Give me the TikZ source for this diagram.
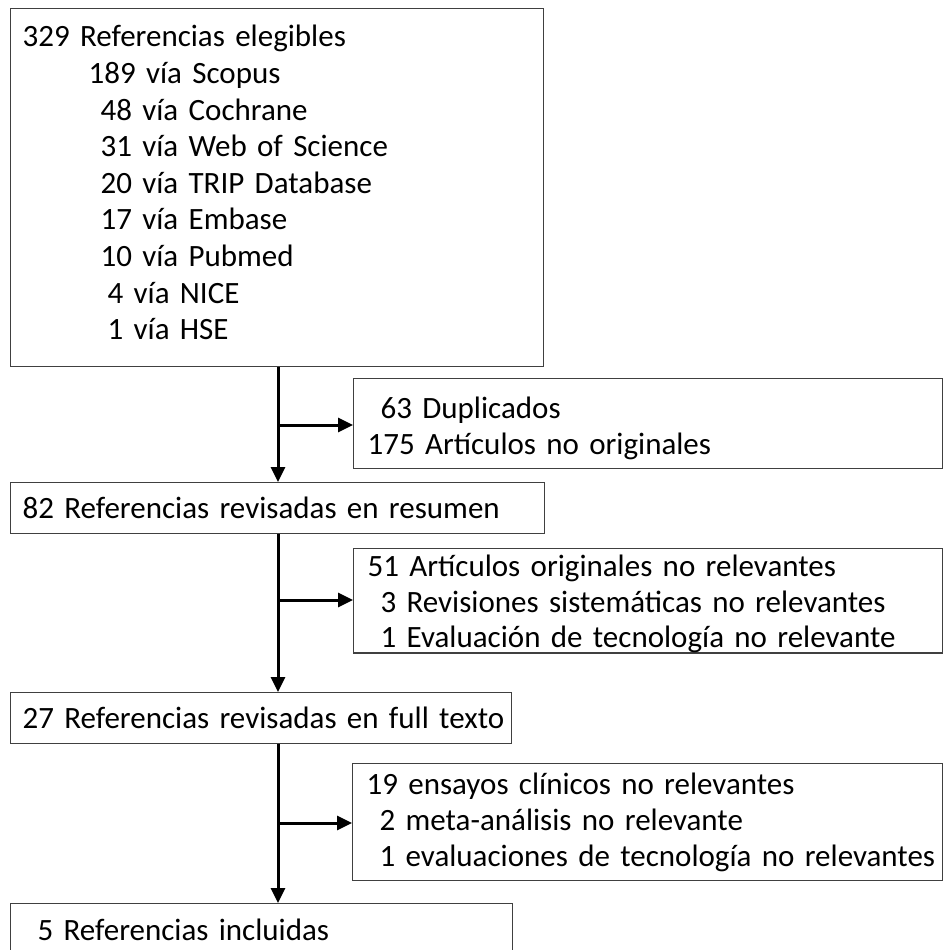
\documentclass[tikz,border=0pt]{standalone}
\usepackage{fontspec}
\setmainfont{Carlito}
\usetikzlibrary{arrows.meta}
\newcommand{\lineat}[2]{\mbox{\hspace*{#1pt}#2}}
\begin{document}
\begin{tikzpicture}[x=1pt,y=-1pt,
  box/.style={draw=black!75, line width=1.2pt, rectangle, anchor=north west,
    align=left, inner xsep=12pt, inner ysep=0pt,
    font=\fontsize{31pt}{36.6pt}\selectfont},
  arr/.style={line width=3pt, -{Triangle[length=15pt,width=14pt]}}]
\useasboundingbox (0,0) rectangle (944,950);
\node[box, minimum width=533pt, minimum height=358pt, text width=509pt] (b1) at (10,8)
 {\lineat{0}{329 Referencias elegibles}\\
  \lineat{66}{189 vía Scopus}\\
  \lineat{78}{48 vía Cochrane}\\
  \lineat{78}{31 vía Web of Science}\\
  \lineat{78}{20 vía TRIP Database}\\
  \lineat{78}{17 vía Embase}\\
  \lineat{78}{10 vía Pubmed}\\
  \lineat{85}{4 vía NICE}\\
  \lineat{85}{1 vía HSE}\rule[-10pt]{0pt}{10pt}};
\node[box, minimum width=589pt, minimum height=90pt, text width=561pt, inner xsep=14pt] (b2) at (353,378)
 {\lineat{13}{63 Duplicados}\rule{0pt}{31pt}\\\lineat{0}{175 Artículos no originales}};
\node[box, minimum width=534pt, minimum height=51pt, text width=510pt] (b3) at (10,482)
 {\lineat{0}{82 Referencias revisadas en resumen}};
\node[box, minimum width=589pt, minimum height=104pt, text width=561pt, inner xsep=14pt,
  font=\fontsize{31pt}{35.5pt}\selectfont] (b4) at (353,548)
 {\lineat{0}{51 Artículos originales no relevantes}\rule{0pt}{28pt}\\
  \lineat{13}{3 Revisiones sistemáticas no relevantes}\\
  \lineat{13}{1 Evaluación de tecnología no relevante}};
\node[box, minimum width=501pt, minimum height=51pt, text width=477pt] (b5) at (10,692)
 {\lineat{0}{27 Referencias revisadas en full texto}};
\node[box, minimum width=590pt, minimum height=117pt, text width=562pt, inner xsep=14pt,
  font=\fontsize{31pt}{36pt}\selectfont] (b6) at (352,763)
 {\lineat{0}{19 ensayos clínicos no relevantes}\\
  \lineat{13}{2 meta-análisis no relevante}\\
  \lineat{13}{1 evaluaciones de tecnología no relevantes}};
\node[box, minimum width=502pt, minimum height=52pt, text width=478pt] (b7) at (10,903)
 {\lineat{15}{5 Referencias incluidas}};
\coordinate (j1) at (278,425);
\coordinate (j2) at (278,600);
\coordinate (j3) at (278,823);
\draw[arr] (b1.south -| j1) -- (b3.north -| j1);
\draw[arr] (j1) -- (j1 -| b2.west);
\draw[arr] (b3.south -| j2) -- (b5.north -| j2);
\draw[arr] (j2) -- (j2 -| b4.west);
\draw[arr] (b5.south -| j3) -- (b7.north -| j3);
\draw[arr] (j3) -- (j3 -| b6.west);
\end{tikzpicture}
\end{document}
